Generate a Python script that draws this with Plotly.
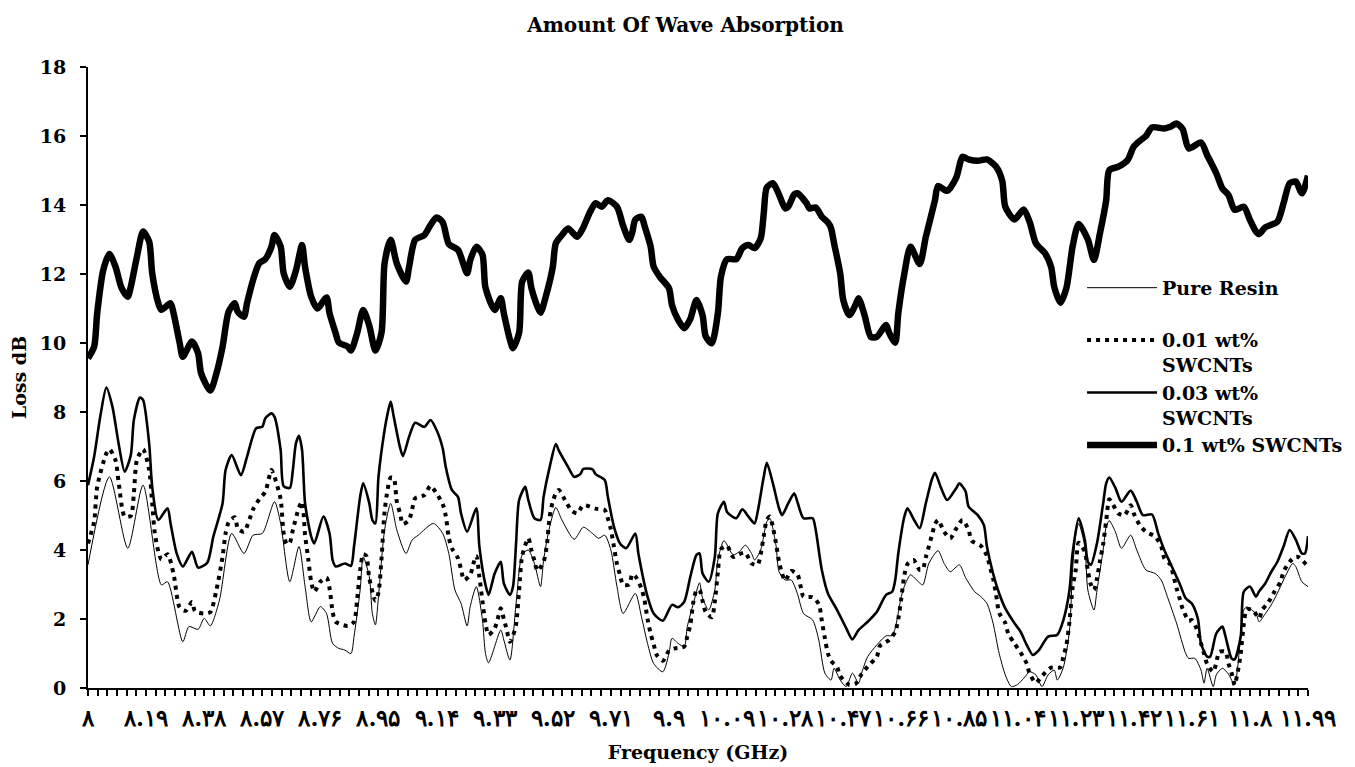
import plotly.graph_objects as go

# ---------------- data (frequency in GHz, loss in dB) ----------------
pure_f = [8.00, 8.07, 8.13, 8.18, 8.24, 8.26, 8.31, 8.33, 8.36, 8.38, 8.40, 8.43, 8.47, 8.51, 8.54, 8.57,
          8.61, 8.63, 8.66, 8.69, 8.71, 8.73, 8.76, 8.78, 8.80, 8.82, 8.84, 8.86, 8.87, 8.89, 8.90, 8.92,
          8.93, 8.94, 8.95, 8.97, 8.99, 9.01, 9.04, 9.06, 9.08, 9.13, 9.16, 9.18, 9.20, 9.22, 9.24, 9.25,
          9.27, 9.29, 9.30, 9.31, 9.35, 9.36, 9.38, 9.40, 9.42, 9.44, 9.46, 9.48, 9.49, 9.51, 9.53, 9.55,
          9.59, 9.62, 9.65, 9.67, 9.69, 9.71, 9.73, 9.75, 9.79, 9.81, 9.83, 9.85, 9.88, 9.90, 9.91, 9.93,
          9.95, 9.96, 9.98, 10.00, 10.01, 10.03, 10.05, 10.06, 10.08, 10.11, 10.13, 10.15, 10.17, 10.18,
          10.20, 10.22, 10.23, 10.25, 10.26, 10.28, 10.30, 10.32, 10.34, 10.37, 10.39, 10.41, 10.43, 10.44,
          10.46, 10.48, 10.50, 10.52, 10.53, 10.55, 10.58, 10.61, 10.63, 10.64, 10.66, 10.67, 10.69, 10.71,
          10.73, 10.75, 10.78, 10.80, 10.82, 10.85, 10.87, 10.90, 10.92, 10.94, 10.96, 10.98, 11.00, 11.02,
          11.04, 11.06, 11.08, 11.10, 11.12, 11.14, 11.16, 11.17, 11.19, 11.21, 11.22, 11.23, 11.24, 11.26,
          11.27, 11.29, 11.30, 11.32, 11.33, 11.34, 11.36, 11.38, 11.41, 11.43, 11.46, 11.49, 11.51, 11.53,
          11.56, 11.59, 11.60, 11.62, 11.64, 11.65, 11.66, 11.68, 11.69, 11.71, 11.73, 11.75, 11.76, 11.77,
          11.78, 11.79, 11.82, 11.83, 11.85, 11.87, 11.89, 11.91, 11.94, 11.95, 11.97, 11.99]
pure_v = [3.57, 6.12, 4.05, 5.88, 2.99, 3.08, 1.34, 1.78, 1.70, 2.02, 1.80, 2.55, 4.48, 3.90, 4.43, 4.48,
          5.40, 4.77, 3.08, 4.10, 2.94, 1.92, 2.36, 2.16, 1.29, 1.15, 1.10, 1.00, 1.49, 2.84, 3.80, 3.23,
          2.16, 1.83, 2.65, 4.58, 5.35, 4.58, 3.90, 4.29, 4.43, 4.77, 4.48, 3.90, 2.84, 2.45, 1.80, 2.36,
          2.94, 1.97, 1.00, 0.73, 1.68, 1.39, 0.81, 2.45, 3.86, 4.00, 3.61, 2.94, 3.71, 4.68, 5.23, 4.87,
          4.31, 4.66, 4.48, 4.34, 4.43, 4.00, 2.94, 2.16, 2.74, 2.07, 1.29, 0.71, 0.47, 1.00, 1.44, 1.29,
          1.20, 1.78, 2.45, 3.05, 2.60, 2.26, 2.84, 3.71, 4.27, 3.86, 3.95, 4.14, 3.90, 3.71,
          4.00, 4.82, 4.92, 4.14, 3.37, 3.13, 3.13, 2.74, 2.16, 1.97, 1.39, 0.43, 0.23, 0.57,
          0.23, 0.04, 0.43, 0.14, 0.43, 0.91, 1.25, 1.51, 1.52, 1.73, 2.65, 2.95, 3.28, 3.13,
          2.99, 3.61, 3.98, 3.61, 3.37, 3.57, 3.20, 2.79, 2.65, 2.45, 1.88, 1.00, 0.38, 0.04,
          0.10, 0.28, 0.47, 0.38, 0.04, 0.38, 0.52, 0.23, 0.60, 1.68, 3.42, 4.39, 4.77, 4.10,
          2.84, 2.26, 2.84, 4.00, 4.68, 4.85, 4.53, 4.05, 4.43, 4.00, 3.42, 3.32, 3.13, 2.65,
          1.88, 1.00, 0.86, 0.86, 0.52, 0.14, 0.57, 0.04, 0.38, 0.57, 0.40, 0.09, 0.60, 1.58,
          2.26, 2.35, 2.15, 1.92, 2.15, 2.41, 2.75, 3.13, 3.61, 3.52, 3.08, 2.94]

swc001_f = [8.00, 8.02, 8.03, 8.06, 8.07, 8.09, 8.10, 8.12, 8.14, 8.15, 8.16, 8.18, 8.20, 8.21, 8.22, 8.24,
            8.26, 8.28, 8.30, 8.32, 8.34, 8.35, 8.38, 8.40, 8.42, 8.44, 8.45, 8.46, 8.48, 8.49, 8.51, 8.54,
            8.56, 8.58, 8.60, 8.61, 8.63, 8.64, 8.65, 8.66, 8.67, 8.69, 8.70, 8.71, 8.72, 8.73, 8.74, 8.76,
            8.78, 8.79, 8.80, 8.81, 8.85, 8.87, 8.88, 8.89, 8.90, 8.91, 8.92, 8.94, 8.95, 8.96, 8.97, 8.98,
            8.99, 9.00, 9.01, 9.02, 9.03, 9.05, 9.06, 9.07, 9.10, 9.12, 9.14, 9.16, 9.17, 9.18, 9.19, 9.21,
            9.22, 9.23, 9.25, 9.26, 9.27, 9.28, 9.29, 9.30, 9.31, 9.33, 9.34, 9.35, 9.36, 9.37, 9.38, 9.39,
            9.40, 9.41, 9.42, 9.44, 9.45, 9.46, 9.47, 9.49, 9.50, 9.51, 9.52, 9.53, 9.54, 9.56, 9.58, 9.60,
            9.62, 9.66, 9.69, 9.70, 9.71, 9.72, 9.73, 9.74, 9.75, 9.77, 9.78, 9.79, 9.81, 9.82, 9.83, 9.84,
            9.85, 9.86, 9.88, 9.90, 9.92, 9.95, 9.96, 9.97, 9.98, 9.99, 10.00, 10.01, 10.02, 10.04, 10.05,
            10.06, 10.07, 10.09, 10.11, 10.13, 10.15, 10.17, 10.19, 10.20, 10.21, 10.22, 10.23, 10.24, 10.25,
            10.26, 10.27, 10.28, 10.30, 10.32, 10.33, 10.34, 10.37, 10.39, 10.40, 10.41, 10.42, 10.43, 10.45,
            10.46, 10.49, 10.51, 10.53, 10.55, 10.58, 10.59, 10.62, 10.64, 10.65, 10.66, 10.67, 10.68, 10.70,
            10.72, 10.73, 10.74, 10.75, 10.76, 10.77, 10.78, 10.80, 10.82, 10.84, 10.86, 10.88, 10.89, 10.92,
            10.94, 10.95, 10.96, 10.97, 10.98, 11.00, 11.01, 11.03, 11.05, 11.07, 11.08, 11.10, 11.12, 11.15,
            11.18, 11.19, 11.20, 11.21, 11.22, 11.23, 11.24, 11.26, 11.27, 11.28, 11.29, 11.30, 11.31, 11.32,
            11.33, 11.34, 11.35, 11.37, 11.39, 11.41, 11.42, 11.44, 11.46, 11.49, 11.51, 11.52, 11.54, 11.55,
            11.56, 11.57, 11.58, 11.60, 11.61, 11.63, 11.64, 11.65, 11.66, 11.68, 11.69, 11.70, 11.72, 11.73,
            11.74, 11.75, 11.76, 11.77, 11.78, 11.79, 11.81, 11.83, 11.84, 11.86, 11.88, 11.90, 11.91, 11.93,
            11.95, 11.96, 11.99]
swc001_v = [4.19, 4.82, 5.83, 6.80, 6.92, 6.60, 5.98, 4.97, 4.99, 5.64, 6.61, 6.92, 6.32, 5.35, 4.39, 3.73,
            3.88, 3.30, 2.33, 2.24, 2.49, 2.23, 2.16, 2.20, 2.84, 3.80, 4.48, 4.80, 4.95, 4.63, 4.53, 5.18,
            5.47, 5.69, 6.32, 6.12, 5.47, 4.48, 4.17, 4.21, 4.58, 5.23, 5.40, 4.43, 3.76, 3.08, 2.79, 3.08,
            3.20, 2.89, 2.21, 1.92, 1.80, 1.92, 2.55, 3.40, 3.88, 3.83, 3.18, 2.53, 2.76, 3.76, 5.11, 5.76,
            6.10, 6.08, 5.40, 5.08, 4.75, 4.87, 5.18, 5.50, 5.59, 5.86, 5.64, 5.33, 4.99, 4.36, 4.05, 3.76,
            3.44, 3.13, 3.28, 3.59, 3.83, 3.23, 2.52, 1.87, 1.54, 1.73, 2.00, 2.31, 2.00, 1.66, 1.34, 1.52,
            1.84, 2.84, 3.83, 4.34, 4.00, 3.69, 3.40, 3.66, 4.10, 4.97, 5.40, 5.64, 5.74, 5.45, 5.16, 5.06,
            5.30, 5.20, 5.16, 4.92, 4.60, 4.10, 3.59, 3.28, 2.99, 3.00, 3.30, 3.24, 2.89, 2.55, 2.00, 1.58,
            1.27, 0.96, 0.79, 1.08, 1.15, 1.20, 1.50, 1.84, 2.50, 2.82, 2.84, 2.52, 2.21, 2.05, 2.50,
            3.37, 4.02, 4.12, 3.80, 3.88, 3.92, 3.61, 3.57, 3.88, 4.40, 4.87, 4.97, 4.66, 4.20,
            3.66, 3.32, 3.11, 3.39, 3.30, 2.97, 2.65, 2.63, 2.43, 1.95, 1.44, 1.00, 0.79, 0.60,
            0.35, 0.09, 0.12, 0.40, 0.62, 0.91, 1.22, 1.39, 1.63, 2.00, 2.60, 3.28, 3.59, 3.71,
            3.42, 3.44, 3.79, 4.10, 4.43, 4.75, 4.87, 4.53, 4.34, 4.63, 4.87, 4.58, 4.27, 4.12,
            3.83, 3.50, 3.18, 2.70, 2.18, 1.88, 1.57, 1.29, 1.03, 0.71, 0.41, 0.15, 0.35, 0.59,
            0.60, 0.91, 1.25, 1.92, 2.90, 3.40, 4.21, 3.95, 3.40, 2.99, 2.84, 3.18, 3.70, 4.16,
            4.85, 5.47, 5.35, 5.06, 5.01, 5.30, 5.06, 4.72, 4.53, 4.39, 4.10, 3.76, 3.57, 3.25,
            2.90, 2.60, 2.30, 1.95, 1.97, 1.63, 1.30, 1.00, 0.70, 0.47, 0.73, 1.05, 1.05, 0.71,
            0.44, 0.09, 0.45, 1.00, 1.85, 2.28, 2.26, 2.02, 2.26, 2.48, 2.79, 3.08, 3.37, 3.66,
            3.80, 3.79, 3.52]

swc003_f = [8.00, 8.02, 8.04, 8.06, 8.08, 8.10, 8.12, 8.14, 8.15, 8.17, 8.18, 8.20, 8.21, 8.23, 8.26, 8.27,
            8.29, 8.31, 8.34, 8.36, 8.39, 8.41, 8.44, 8.45, 8.47, 8.50, 8.52, 8.55, 8.57, 8.58, 8.60, 8.61,
            8.63, 8.64, 8.66, 8.67, 8.68, 8.69, 8.70, 8.71, 8.73, 8.74, 8.77, 8.79, 8.80, 8.81, 8.84, 8.86,
            8.87, 8.89, 8.90, 8.92, 8.93, 8.94, 8.95, 8.97, 8.98, 8.99, 9.00, 9.02, 9.03, 9.05, 9.07, 9.10,
            9.12, 9.14, 9.16, 9.17, 9.19, 9.21, 9.22, 9.24, 9.27, 9.28, 9.30, 9.31, 9.33, 9.35, 9.36, 9.38,
            9.39, 9.40, 9.41, 9.43, 9.44, 9.46, 9.48, 9.49, 9.51, 9.53, 9.54, 9.57, 9.59, 9.61, 9.62, 9.65,
            9.66, 9.69, 9.70, 9.72, 9.74, 9.76, 9.79, 9.80, 9.83, 9.85, 9.88, 9.91, 9.93, 9.95, 9.97, 9.99,
            10.00, 10.01, 10.03, 10.05, 10.06, 10.08, 10.09, 10.12, 10.14, 10.16, 10.18, 10.19, 10.21, 10.22,
            10.24, 10.26, 10.27, 10.29, 10.31, 10.32, 10.34, 10.37, 10.38, 10.40, 10.42, 10.45, 10.48, 10.50,
            10.52, 10.55, 10.58, 10.61, 10.63, 10.64, 10.65, 10.67, 10.68, 10.70, 10.72, 10.74, 10.76, 10.77,
            10.79, 10.81, 10.84, 10.85, 10.87, 10.88, 10.91, 10.93, 10.94, 10.96, 10.98, 11.00, 11.03, 11.05,
            11.07, 11.09, 11.11, 11.14, 11.17, 11.19, 11.21, 11.22, 11.24, 11.26, 11.27, 11.28, 11.30, 11.32,
            11.33, 11.34, 11.36, 11.38, 11.41, 11.43, 11.45, 11.48, 11.50, 11.52, 11.54, 11.57, 11.59, 11.61,
            11.63, 11.64, 11.66, 11.67, 11.69, 11.71, 11.72, 11.74, 11.75, 11.77, 11.78, 11.80, 11.82, 11.83,
            11.85, 11.87, 11.89, 11.91, 11.93, 11.95, 11.97, 11.98, 11.99]
swc003_v = [5.88, 6.70, 7.86, 8.71, 8.15, 7.09, 6.27, 6.75, 7.77, 8.42, 8.35, 7.09, 5.83, 4.87, 5.21, 4.77,
            3.90, 3.52, 3.95, 3.49, 3.63, 4.39, 5.35, 6.32, 6.75, 6.17, 6.70, 7.53, 7.57, 7.82, 7.96, 7.86,
            6.90, 5.85, 5.80, 6.32, 7.09, 7.31, 6.90, 5.35, 4.39, 4.19, 4.97, 4.48, 3.71, 3.52, 3.61, 3.54,
            4.10, 5.54, 5.93, 5.35, 4.87, 4.77, 6.12, 7.48, 7.96, 8.30, 7.86, 6.99, 6.72, 7.28, 7.69, 7.57,
            7.77, 7.48, 6.95, 6.41, 5.74, 5.54, 5.06, 4.53, 5.21, 4.10, 2.99, 2.70, 3.32, 3.66, 3.03, 2.70,
            2.94, 4.19, 5.45, 5.83, 5.45, 4.92, 4.87, 5.54, 6.41, 7.07, 6.88, 6.41, 6.12, 6.20, 6.35, 6.34,
            6.20, 6.03, 5.55, 4.68, 4.19, 4.05, 4.48, 3.90, 2.65, 2.16, 1.95, 2.41, 2.34, 2.50, 3.23, 3.86,
            3.90, 3.32, 3.08, 3.80, 5.06, 5.40, 5.10, 4.92, 5.18, 4.97, 4.77, 5.10, 6.12, 6.53,
            5.93, 5.21, 5.01, 5.35, 5.64, 5.40, 4.92, 4.92, 4.58, 3.42, 2.74, 2.26, 1.73, 1.41,
            1.68, 1.92, 2.21, 2.70, 2.79, 3.13, 3.90, 4.97, 5.21, 4.90, 4.63, 5.35, 6.05, 6.24,
            5.80, 5.45, 5.80, 5.93, 5.70, 5.26, 5.01, 4.72, 4.10, 3.32, 2.74, 2.31, 1.88, 1.63,
            1.25, 0.96, 1.10, 1.49, 1.54, 1.97, 2.84, 3.90, 4.92, 4.30, 3.66, 3.57, 4.20, 5.35,
            5.93, 6.10, 5.80, 5.40, 5.72, 5.40, 5.01, 5.03, 4.48, 4.00, 3.61, 3.03, 2.60, 2.45,
            2.00, 1.29, 0.91, 0.91, 1.58, 1.78, 1.50, 0.86, 0.83, 1.50, 2.79, 2.94, 2.65, 2.80,
            3.03, 3.37, 3.66, 4.10, 4.58, 4.30, 3.90, 3.90, 4.40]

swc01_f = [8.00, 8.02, 8.03, 8.05, 8.07, 8.09, 8.11, 8.13, 8.14, 8.16, 8.18, 8.20, 8.21, 8.23, 8.24, 8.27,
           8.28, 8.30, 8.31, 8.34, 8.36, 8.37, 8.40, 8.42, 8.44, 8.46, 8.48, 8.49, 8.51, 8.52, 8.54, 8.56,
           8.58, 8.60, 8.61, 8.63, 8.64, 8.66, 8.68, 8.70, 8.71, 8.73, 8.75, 8.78, 8.79, 8.81, 8.82, 8.85,
           8.86, 8.88, 8.90, 8.92, 8.94, 8.96, 8.97, 8.99, 9.01, 9.04, 9.05, 9.07, 9.10, 9.12, 9.14, 9.16,
           9.18, 9.21, 9.24, 9.25, 9.27, 9.29, 9.30, 9.33, 9.35, 9.36, 9.38, 9.39, 9.41, 9.42, 9.44, 9.45,
           9.47, 9.48, 9.50, 9.52, 9.53, 9.55, 9.57, 9.60, 9.62, 9.64, 9.66, 9.68, 9.70, 9.73, 9.75, 9.77,
           9.78, 9.79, 9.81, 9.82, 9.84, 9.85, 9.87, 9.90, 9.91, 9.93, 9.95, 9.97, 9.99, 10.01, 10.02, 10.04,
           10.06, 10.07, 10.09, 10.12, 10.14, 10.16, 10.18, 10.20, 10.21, 10.22, 10.24, 10.26, 10.28, 10.29,
           10.31, 10.32, 10.35, 10.36, 10.38, 10.40, 10.42, 10.43, 10.44, 10.46, 10.47, 10.49, 10.51, 10.52,
           10.54, 10.56, 10.58, 10.61, 10.62, 10.64, 10.65, 10.67, 10.69, 10.72, 10.74, 10.77, 10.78, 10.81,
           10.84, 10.86, 10.88, 10.91, 10.94, 10.97, 10.99, 11.00, 11.03, 11.06, 11.08, 11.10, 11.13, 11.15,
           11.16, 11.18, 11.20, 11.22, 11.24, 11.27, 11.29, 11.31, 11.33, 11.34, 11.37, 11.40, 11.42, 11.44,
           11.46, 11.48, 11.52, 11.54, 11.56, 11.58, 11.60, 11.64, 11.66, 11.69, 11.71, 11.73, 11.75, 11.78,
           11.80, 11.82, 11.83, 11.85, 11.89, 11.91, 11.93, 11.95, 11.97, 11.99]
swc01_v = [9.56, 9.89, 10.86, 12.12, 12.58, 12.21, 11.59, 11.34, 11.63, 12.50, 13.23, 12.94, 12.02, 11.15, 10.96, 11.15,
           10.86, 9.99, 9.60, 10.04, 9.70, 9.12, 8.62, 9.12, 9.89, 10.91, 11.15, 10.90, 10.76, 11.15, 11.83, 12.31,
           12.43, 12.79, 13.13, 12.80, 12.02, 11.63, 12.10, 12.84, 12.20, 11.34, 11.00, 11.32, 10.86, 10.28, 10.02, 9.89,
           9.78, 10.28, 10.96, 10.50, 9.78, 10.30, 12.31, 12.99, 12.30, 11.78, 12.20, 12.99, 13.13, 13.42, 13.64, 13.50,
           12.87, 12.70, 12.02, 12.40, 12.79, 12.56, 11.60, 10.96, 11.30, 10.86, 10.09, 9.85, 10.30, 11.78, 12.04, 11.60,
           11.05, 10.88, 11.44, 12.20, 12.89, 13.13, 13.32, 13.08, 13.35, 13.76, 14.05, 13.95, 14.14, 13.95, 13.40, 12.99,
           13.20, 13.58, 13.66, 13.40, 12.80, 12.21, 11.92, 11.59, 11.10, 10.67, 10.43, 10.70, 11.25, 10.80, 10.20, 9.99,
           10.86, 11.92, 12.43, 12.43, 12.75, 12.84, 12.75, 13.03, 13.76, 14.51, 14.63, 14.30, 13.90, 13.95,
           14.31, 14.34, 14.05, 13.90, 13.93, 13.66, 13.49, 13.33, 12.89, 12.02, 11.25, 10.81, 11.10, 11.30,
           10.80, 10.18, 10.18, 10.52, 10.30, 10.01, 10.86, 12.02, 12.79, 12.29, 13.07, 14.14, 14.55, 14.41,
           14.80, 15.40, 15.32, 15.28, 15.32, 15.11, 14.70, 13.95, 13.58, 13.87, 13.50, 12.89, 12.60, 12.20,
           11.63, 11.17, 11.60, 12.79, 13.45, 13.00, 12.41, 13.20, 14.14, 15.01, 15.11, 15.30, 15.69, 15.86,
           16.00, 16.25, 16.22, 16.27, 16.36, 16.20, 15.64, 15.81, 15.45, 14.92, 14.48, 14.29, 13.86, 13.95,
           13.57, 13.23, 13.16, 13.35, 13.52, 14.05, 14.63, 14.68, 14.34, 14.85]

series_names = ["Pure Resin<br>\u00a0", "0.01 wt%<br>SWCNTs", "0.03 wt%<br>SWCNTs", "0.1 wt% SWCNTs"]

xtick_vals = [8.00, 8.19, 8.38, 8.57, 8.76, 8.95, 9.14, 9.33, 9.52, 9.71, 9.90,
              10.09, 10.28, 10.47, 10.66, 10.85, 11.04, 11.23, 11.42, 11.61, 11.80, 11.99]
xtick_text = ["۸", "۸.۱۹", "۸.۳۸", "۸.۵۷", "۸.۷۶", "۸.۹۵", "۹.۱۴", "۹.۳۳", "۹.۵۲", "۹.۷۱", "۹.۹",
              "۱۰.۰۹", "۱۰.۲۸", "۱۰.۴۷", "۱۰.۶۶", "۱۰.۸۵", "۱۱.۰۴", "۱۱.۲۳", "۱۱.۴۲", "۱۱.۶۱", "۱۱.۸", "۱۱.۹۹"]
ytick_vals = [0, 2, 4, 6, 8, 10, 12, 14, 16, 18]

FONT = "DejaVu Serif, Liberation Serif, serif"
BOLD = dict(family=FONT, size=19, color="black", weight="bold")

fig = go.Figure()
fig.add_trace(go.Scatter(x=pure_f, y=pure_v, name=series_names[0], mode="lines",
                         line=dict(color="black", width=1, shape="spline", smoothing=0.7)))
fig.add_trace(go.Scatter(x=swc001_f, y=swc001_v, name=series_names[1], mode="lines",
                         line=dict(color="black", width=4, dash="4px,5px", shape="spline", smoothing=0.7)))
fig.add_trace(go.Scatter(x=swc003_f, y=swc003_v, name=series_names[2], mode="lines",
                         line=dict(color="black", width=2.6, shape="spline", smoothing=0.7)))
fig.add_trace(go.Scatter(x=swc01_f, y=swc01_v, name=series_names[3], mode="lines",
                         line=dict(color="black", width=6.5, shape="spline", smoothing=0.7)))

fig.update_layout(
    width=1355, height=767,
    paper_bgcolor="white", plot_bgcolor="white",
    margin=dict(l=80, r=55, t=59, b=87, autoexpand=False),
    font=BOLD,
    title=dict(text="Amount Of Wave Absorption", x=0.5, xanchor="center",
               y=0.978, yanchor="middle", font=dict(family=FONT, size=20, color="black", weight="bold")),
    showlegend=True,
    legend=dict(x=0.8148, xanchor="left", y=0.675, yanchor="top", bgcolor="rgba(0,0,0,0)",
                font=BOLD, valign="top", itemwidth=70, tracegroupgap=0, traceorder="normal"),
)
fig.update_xaxes(
    range=[8, 11.99], tickmode="array", tickvals=xtick_vals, ticktext=xtick_text, tickangle=0,
    ticks="outside", ticklen=6, tickwidth=1.5, tickcolor="black", ticklabelstandoff=2,
    showline=True, linecolor="black", linewidth=2, showgrid=False, zeroline=False, automargin=False,
    tickfont=dict(family=FONT, size=23, color="black", weight="bold"),
    minor=dict(ticks="outside", ticklen=6, tickwidth=1.5, tickcolor="black", tick0=8, dtick=0.19 / 6, showgrid=False),
    title=dict(text="Frequency (GHz)", font=BOLD, standoff=16),
)
fig.update_yaxes(
    range=[0, 18], tickmode="array", tickvals=ytick_vals, ticks="outside", ticklen=6, tickwidth=1.5,
    tickcolor="black", showline=True, linecolor="black", linewidth=2, showgrid=False, zeroline=False,
    automargin=False, ticklabelstandoff=10, tickfont=BOLD,
    title=dict(text="Loss dB", font=BOLD, standoff=12),
)
fig.write_html("out.html")
